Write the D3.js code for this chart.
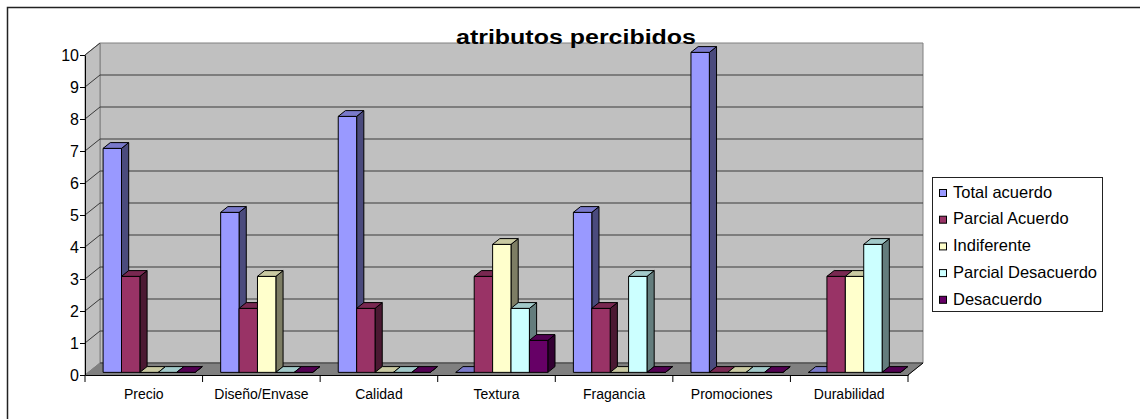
<!DOCTYPE html>
<html>
<head>
<meta charset="utf-8">
<script src="https://cdn.jsdelivr.net/npm/d3@7"></script>
<style>
  body { margin: 0; background: #fff; }
  svg text { font-family: "Liberation Sans", Arial, sans-serif; fill: #000; }
</style>
</head>
<body>
<div id="chart"></div>
<script>
// Data
const categories = ["Precio", "Diseño/Envase", "Calidad", "Textura", "Fragancia", "Promociones", "Durabilidad"];
const seriesNames = ["Total acuerdo", "Parcial Acuerdo", "Indiferente", "Parcial Desacuerdo", "Desacuerdo"];
const totalAcuerdo = [7, 5, 8, 0, 5, 10, 0];
const parcialAcuerdo = [3, 2, 2, 3, 2, 0, 3];
const indiferente = [0, 3, 0, 4, 0, 0, 3];
const parcialDesacuerdo = [0, 0, 0, 2, 3, 0, 4];
const desacuerdo = [0, 0, 0, 1, 0, 0, 0];
const yTicks = [0, 1, 2, 3, 4, 5, 6, 7, 8, 9, 10];

const seriesValues = [totalAcuerdo, parcialAcuerdo, indiferente, parcialDesacuerdo, desacuerdo];
const seriesColors = ["#9999FF", "#993366", "#FFFFCC", "#CCFFFF", "#660066"];

const width = 1140;
const height = 419;

// 3D wall depth (screen offset from front plane to back wall)
const DX = 15;
const DY = 12;
// bars sit between these depth fractions
const D0 = 0.22;
const D1 = 0.70;

const svg = d3.select("#chart").append("svg")
  .attr("width", width)
  .attr("height", height);

// outer chart border (runs off the right and bottom edge)
svg.append("rect")
  .attr("x", 7.5).attr("y", 7.5)
  .attr("width", width).attr("height", height)
  .attr("fill", "#fff")
  .attr("stroke", "#222")
  .attr("stroke-width", 1.5);

// Scales on the front plane
const x = d3.scaleBand().domain(categories).range([85, 908]);
const xs = d3.scaleBand().domain(seriesNames).range([14.8, 106.8]);
const y = d3.scaleLinear().domain([0, 10]).range([375, 55]);
const colour = d3.scaleOrdinal().domain(seriesNames).range(seriesColors);

// project a front-plane point (xf, value) back by depth fraction d
const proj = (xf, v, d) => [xf + DX * d, y(v) - DY * d];
const poly = pts => pts.map(p => p.join(",")).join(" ");

const x0 = x.range()[0];
const x1 = x.range()[1];

// Walls and floor
const walls = svg.append("g").attr("class", "walls");

walls.append("polygon")
  .attr("points", poly([proj(x0, 0, 1), proj(x1, 0, 1), proj(x1, 10, 1), proj(x0, 10, 1)]))
  .attr("fill", "#C0C0C0")
  .attr("stroke", "#808080");

walls.append("polygon")
  .attr("points", poly([proj(x0, 0, 0), proj(x0, 0, 1), proj(x0, 10, 1), proj(x0, 10, 0)]))
  .attr("fill", "#C0C0C0")
  .attr("stroke", "#808080");

walls.append("polygon")
  .attr("points", poly([proj(x0, 0, 0), proj(x0, 0, 1), proj(x1, 0, 1), proj(x1, 0, 0)]))
  .attr("fill", "#808080")
  .attr("stroke", "#808080");

// Gridlines on the side and back walls
const grid = svg.append("g").attr("class", "grid");
yTicks.filter(d => d > 0 && d < 10).forEach(v => {
  const a = proj(x0, v, 0), b = proj(x0, v, 1), c = proj(x1, v, 1);
  grid.append("polyline")
    .attr("points", poly([a, b, c]))
    .attr("fill", "none")
    .attr("stroke", "#3a3a3a")
    .attr("stroke-width", 1);
});
grid.append("line")
  .attr("x1", proj(x0, 10, 0)[0]).attr("y1", proj(x0, 10, 0)[1])
  .attr("x2", proj(x0, 10, 1)[0]).attr("y2", proj(x0, 10, 1)[1])
  .attr("stroke", "#3a3a3a");
grid.append("line")
  .attr("x1", proj(x0, 0, 1)[0]).attr("y1", proj(x0, 0, 1)[1])
  .attr("x2", proj(x1, 0, 1)[0]).attr("y2", proj(x1, 0, 1)[1])
  .attr("stroke", "#3a3a3a");

// Bars: front, side and top faces, drawn left to right
const bars = svg.append("g").attr("class", "bars");
categories.forEach((cat, ci) => {
  seriesNames.forEach((s, si) => {
    const v = seriesValues[si][ci];
    const xl = x(cat) + xs(s);
    const xr = xl + xs.bandwidth();
    const base = d3.color(colour(s));
    const g = bars.append("g").attr("stroke", "#000").attr("stroke-width", 1).attr("stroke-linejoin", "round");

    g.append("polygon")
      .attr("points", poly([proj(xr, 0, D0), proj(xr, 0, D1), proj(xr, v, D1), proj(xr, v, D0)]))
      .attr("fill", base.darker(2.0));
    g.append("polygon")
      .attr("points", poly([proj(xl, 0, D0), proj(xr, 0, D0), proj(xr, v, D0), proj(xl, v, D0)]))
      .attr("fill", base);
    g.append("polygon")
      .attr("points", poly([proj(xl, v, D0), proj(xr, v, D0), proj(xr, v, D1), proj(xl, v, D1)]))
      .attr("fill", base.darker(0.65));
  });
});

// Right floor edge
svg.append("line")
  .attr("x1", proj(x1, 0, 0)[0]).attr("y1", proj(x1, 0, 0)[1])
  .attr("x2", proj(x1, 0, 1)[0]).attr("y2", proj(x1, 0, 1)[1])
  .attr("stroke", "#000");

// Y axis
const yAxisG = svg.append("g")
  .attr("transform", `translate(${x0},0)`)
  .call(d3.axisLeft(y).tickValues(yTicks).tickSize(5).tickPadding(1).tickSizeOuter(0).tickFormat(d3.format("d")));
yAxisG.selectAll("text").style("font-size", "16px");
yAxisG.select(".domain").attr("stroke", "#000");

// X axis: labels at category centres, ticks at category borders
const xAxisG = svg.append("g")
  .attr("transform", `translate(0,${y(0)})`)
  .call(d3.axisBottom(x).tickSize(0).tickPadding(14));
xAxisG.selectAll("text").style("font-size", "14px");
xAxisG.select(".domain").attr("stroke", "#000");

xAxisG.selectAll(".border-tick")
  .data(categories.map(c => x(c)).concat([x1]))
  .join("line")
  .attr("class", "border-tick")
  .attr("x1", d => d).attr("x2", d => d)
  .attr("y1", 0).attr("y2", 7)
  .attr("stroke", "#000");

// Title
svg.append("text")
  .attr("x", 576)
  .attr("y", 44)
  .attr("text-anchor", "middle")
  .attr("textLength", 240)
  .attr("lengthAdjust", "spacingAndGlyphs")
  .style("font-size", "20px")
  .style("font-weight", "bold")
  .text("atributos percibidos");

// Legend
const legend = svg.append("g").attr("transform", "translate(932,177)");
legend.append("rect")
  .attr("x", 0.5).attr("y", 0.5)
  .attr("width", 170).attr("height", 134)
  .attr("fill", "#fff")
  .attr("stroke", "#222");

const item = legend.selectAll(".item")
  .data(seriesNames)
  .join("g")
  .attr("class", "item")
  .attr("transform", (d, i) => `translate(0,${15 + i * 26.7})`);

item.append("rect")
  .attr("x", 7.5).attr("y", -2.5)
  .attr("width", 7).attr("height", 7)
  .attr("fill", d => colour(d))
  .attr("stroke", "#000");

item.append("text")
  .attr("x", 21)
  .attr("y", 0)
  .attr("dy", "0.35em")
  .style("font-size", "16.5px")
  .text(d => d);
</script>
</body>
</html>
